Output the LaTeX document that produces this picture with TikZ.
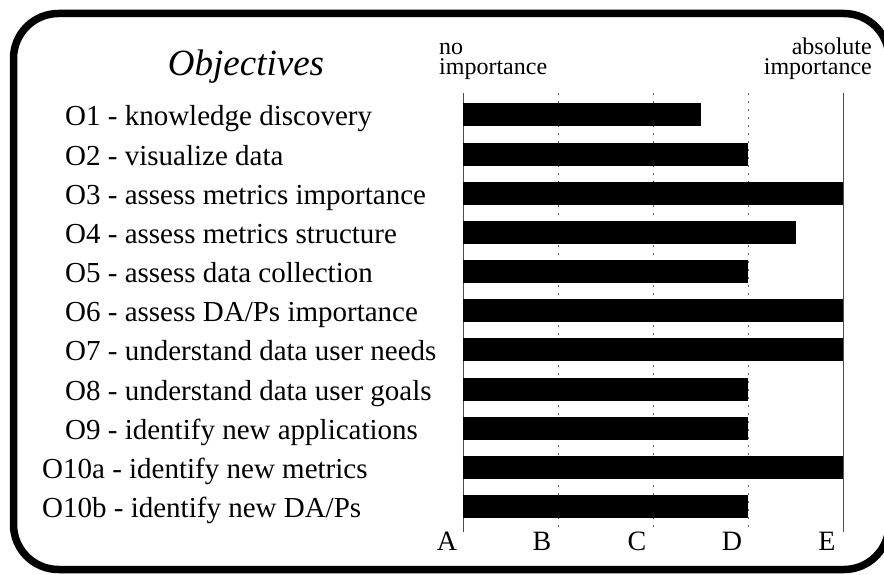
\documentclass[tikz,border=0pt]{standalone}
\usepackage{fontspec}
\setmainfont{Liberation Serif}
\begin{document}
\begin{tikzpicture}[x=1pt,y=-1pt,
  lbl/.style={anchor=base west, inner sep=0pt, font=\fontsize{29}{30}\selectfont},
  hdr/.style={inner sep=0pt, font=\fontsize{24}{20}\selectfont},
  axlbl/.style={anchor=base, inner sep=0pt, font=\fontsize{28}{30}\selectfont},
  barbox/.style={fill=black, draw=none, anchor=west, minimum height=23pt, inner sep=0pt, outer sep=0pt},
  axsolid/.style={draw=black!70, line width=1pt},
  axdot/.style={draw=black!60, line width=1pt, dash pattern=on 2pt off 6pt},
  frame/.style={line width=7.5pt, rounded corners=45pt}]
\useasboundingbox (0,0) rectangle (884,575);
\draw[frame] (13.5,13.5) rectangle (889,569.5);

% header
\node[anchor=base, inner sep=0pt, font=\itshape\fontsize{37}{40}\selectfont] (title) at (246,76) {Objectives};
\node[hdr, anchor=base west, align=left] (noimp) at (439,75) {no\\importance};
\node[hdr, anchor=base east, align=right] (absimp) at (872,75) {absolute\\importance};

% axis lines
\foreach \n/\xx in {A/463,B/558,C/653,D/748,E/843}{
  \coordinate (t\n) at (\xx,93);
  \coordinate (u\n) at (\xx,532);
  \node[axlbl] (lab\n) at (\xx-16,550) {\n};
}
\draw[axsolid] (tA) -- (uA);
\draw[axsolid] (tE) -- (uE);
\draw[axdot] (tB) -- (uB);
\draw[axdot] (tC) -- (uC);
\draw[axdot] (tD) -- (uD);

% rows
\foreach \i/\t/\v/\x in {
 1/{O1 - knowledge discovery}/2.5/65,
 2/{O2 - visualize data}/3/65,
 3/{O3 - assess metrics importance}/4/65,
 4/{O4 - assess metrics structure}/3.5/65,
 5/{O5 - assess data collection}/3/65,
 6/{O6 - assess DA/Ps importance}/4/65,
 7/{O7 - understand data user needs}/4/65,
 8/{O8 - understand data user goals}/3/65,
 9/{O9 - identify new applications}/3/65,
 10/{O10a - identify new metrics}/4/42,
 11/{O10b - identify new DA/Ps}/3/42}
{
  \pgfmathsetmacro\yy{115+39.15*(\i-1)}
  \node[lbl] (l\i) at (\x,\yy+11) {\t};
  \node[barbox, minimum width=\v*95pt] (b\i) at (463,\yy) {};
}
\end{tikzpicture}
\end{document}
